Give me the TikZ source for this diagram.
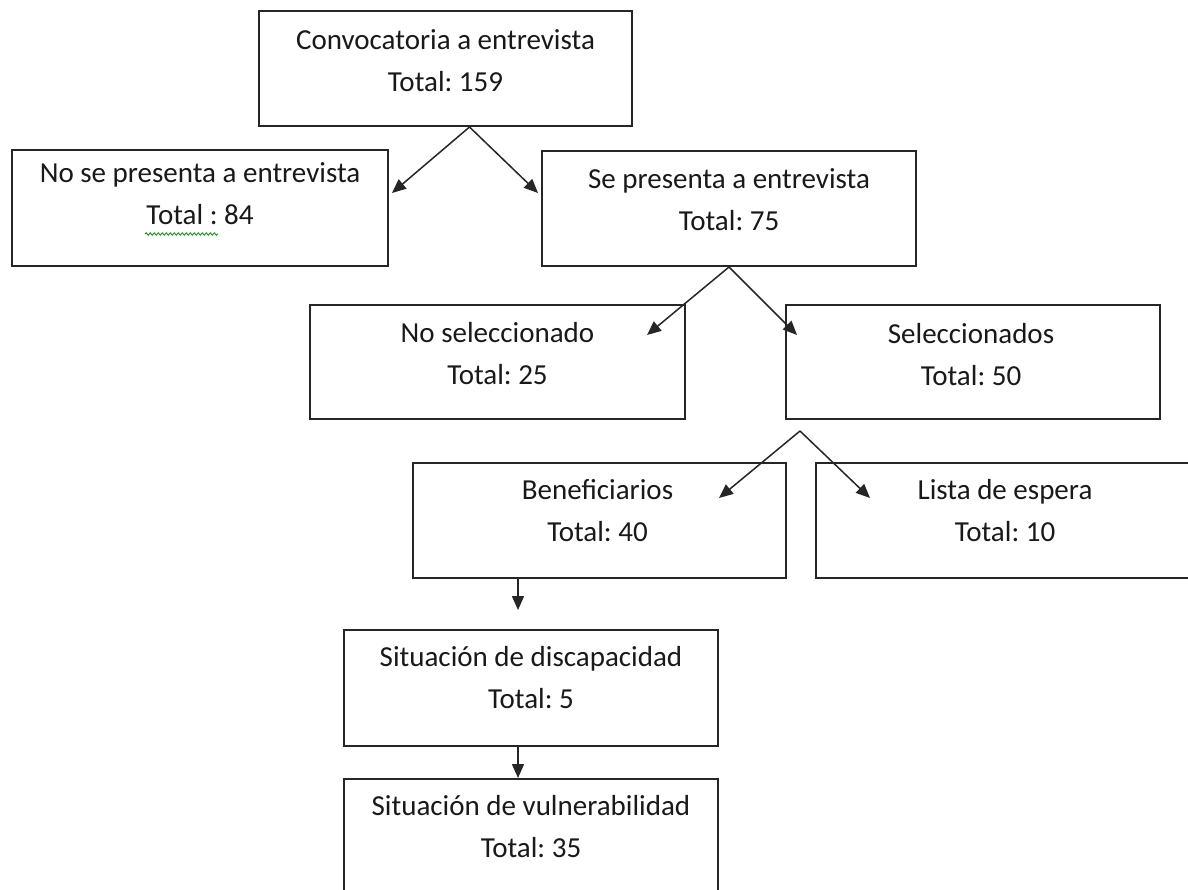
\documentclass[tikz,border=0pt]{standalone}
\usepackage{fontspec}
\setmainfont{Carlito}
\frenchspacing
\usetikzlibrary{arrows.meta,calc,decorations.pathmorphing}
\begin{document}
\begin{tikzpicture}[x=1pt,y=-1pt,
  box/.style={draw=black!85, line width=2pt, rectangle, anchor=north west, inner sep=0pt},
  txt/.style={font=\fontsize{29}{42}\selectfont, align=center, text=black!90, inner sep=0pt},
  arr/.style={draw=black!85, line width=1.5pt, -{Triangle[length=14pt,width=12pt]}},
  squig/.style={draw=green!55!black, line width=0.8pt, decorate, decoration={snake, amplitude=1.2pt, segment length=4pt}}]
\useasboundingbox[fill=white] (0,0) rectangle (1188,890);
% boxes
\node[box, minimum width=373pt, minimum height=115pt] (b1) at (258,10) {};
\node[box, minimum width=376pt, minimum height=116pt] (b2) at (11,149) {};
\node[box, minimum width=374pt, minimum height=115pt] (b3) at (541,150) {};
\node[box, minimum width=375pt, minimum height=114pt] (b4) at (309,304) {};
\node[box, minimum width=374pt, minimum height=114pt] (b5) at (785,304) {};
\node[box, minimum width=373pt, minimum height=115pt] (b6) at (412,462) {};
\node[box, minimum width=378pt, minimum height=115pt] (b7) at (815,462) {};
\node[box, minimum width=374pt, minimum height=116pt] (b8) at (343,629) {};
\node[box, minimum width=374pt, minimum height=125pt] (b9) at (343,778) {};
% texts
\node[txt] (t1) at ($(b1.north)+(0,50.5)$) {Convocatoria a entrevista\\Total: 159};
\node[txt] (t2) at ($(b2.north)+(0,44.5)$) {No se presenta a entrevista\\Total : 84};
\node[txt] (t3) at ($(b3.north)+(0,49.5)$) {Se presenta a entrevista\\Total: 75};
\node[txt] (t4) at ($(b4.north)+(0,49.5)$) {No seleccionado\\Total: 25};
\node[txt] (t5) at ($(b5.north)+(-2,50.5)$) {Seleccionados\\Total: 50};
\node[txt] (t6) at ($(b6.north)+(-2,49)$) {Beneficiarios\\Total: 40};
\node[txt] (t7) at ($(b7.north)+(0,49)$) {Lista de espera\\Total: 10};
\node[txt] (t8) at ($(b8.north)+(0,49)$) {Situación de discapacidad\\Total: 5};
\node[txt] (t9) at ($(b9.north)+(0,48.5)$) {Situación de vulnerabilidad\\Total: 35};
% spell-check squiggle
\path[squig] ($(b2.north west)+(134,85)$) -- ($(b2.north west)+(207,85)$);
% split points
\coordinate (s1) at ($(b1.south)+(24,0)$);
\coordinate (s3) at (b3.south);
\coordinate (s5) at ($(b5.south west)+(15,11)$);
% arrows
\draw[arr] (s1) -- ($(b2.north east)+(3,44)$);
\draw[arr] (s1) -- ($(b3.north west)+(-3,43)$);
\draw[arr] (s3) -- ($(b4.north east)+(-39,31)$);
\draw[arr] (s3) -- ($(b5.north west)+(12,31)$);
\draw[arr] (s5) -- ($(b6.north east)+(-68,36)$);
\draw[arr] (s5) -- ($(b7.north west)+(55,36)$);
\draw[arr] ($(b6.south west)+(106,0)$) -- ($(b8.north west)+(175,-19)$);
\draw[arr] ($(b8.south west)+(175,0)$) -- ($(b9.north west)+(175,0)$);
\end{tikzpicture}
\end{document}
